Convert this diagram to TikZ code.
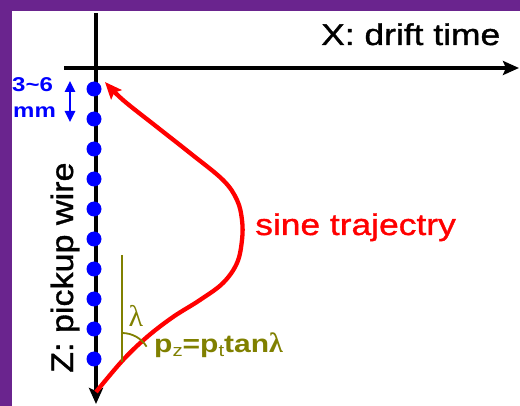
\documentclass[tikz,border=0pt]{standalone}
\usepackage{fontspec}
\setmainfont{Liberation Sans}
\newfontfamily\widefont[FakeStretch=1.18,FakeBold=1.2]{Liberation Sans}
\newfontfamily\wirefont[FakeStretch=1.1,FakeBold=1.2]{Liberation Sans}
\newfontfamily\boldfont[FakeStretch=1.2]{Liberation Sans}
\newfontfamily\greekfont{Liberation Serif}
\usetikzlibrary{arrows.meta}
\definecolor{framepurple}{RGB}{106,36,142}
\definecolor{lamolive}{RGB}{128,128,0}

\begin{document}
\begin{tikzpicture}[x=1pt,y=-1pt,>=Stealth,
 axis/.style={line width=4.5pt,-{Stealth[length=16pt,width=14pt,inset=3pt]}},
 wdot/.style={circle,fill=blue,minimum size=15pt,inner sep=0pt},
 lab/.style={inner sep=0pt,anchor=base west,font=\widefont\fontsize{30}{30}\selectfont},
 gaplab/.style={inner sep=0pt,anchor=base west,blue,font=\boldfont\bfseries\fontsize{20}{20}\selectfont}]
\useasboundingbox (0,0) rectangle (520,406);
\fill[framepurple] (0,0) rectangle (520,406);
\fill[white] (12,11) rectangle (520,406);

\coordinate (xl) at (64,68);
\coordinate (xr) at (519,68);
\coordinate (zt) at (96,13);
\coordinate (zb) at (96,404);
\draw[axis] (xl) -- (xr);
\draw[axis] (zt) -- (zb);
\node[lab] (xlab) at (321,45) {X: drift time};
\node[lab,font=\wirefont\fontsize{31}{31}\selectfont,rotate=90] (zlab) at (73,373) {Z: pickup wire};

\foreach \k in {0,...,9}
  \node[wdot] (d\k) at (94,89+30*\k) {};

\coordinate (st) at (70,81);
\coordinate (sb) at (70,122);
\draw[blue,line width=2.5pt,{Triangle[length=11pt,width=10pt]}-{Triangle[length=11pt,width=10pt]}] (st) -- (sb);
\node[gaplab] (gap) at (12,92) {3\textasciitilde6};
\node[gaplab] (gapunit) at (13,118) {mm};

\draw[red,line width=4.3pt,-{Stealth[length=17pt,width=14pt,inset=3pt]}] plot[smooth,tension=0.6] coordinates
  {(96,392) (123,360) (147,337) (173,317) (200,300) (223,283) (237,263) (242,240)
   (242,220) (237,200) (223,180) (190,153) (157,127) (123,100) (105,82)};
\node[lab,red] (sine) at (255,235) {sine trajectry};

\coordinate (lt) at (122,255);
\coordinate (lb) at (122,362);
\draw[lamolive,line width=2pt] (lt) -- (lb);
\draw[lamolive,line width=1.8pt] (lb) ++(0,-29) arc[start angle=-90,end angle=-32,radius=29];
\node[lamolive,inner sep=0pt,anchor=base,font=\greekfont\fontsize{30}{30}\selectfont] (lam) at (136,327) {λ};
\node[lab,lamolive,font=\boldfont\bfseries\fontsize{25}{25}\selectfont] (pz) at (154,353)
  {p\raisebox{-4pt}{\fontsize{17}{17}\selectfont\mdseries z}=p\raisebox{-4pt}{\fontsize{17}{17}\selectfont\mdseries t}tan{\greekfont\fontsize{28}{28}\selectfont λ}};
\end{tikzpicture}
\end{document}
